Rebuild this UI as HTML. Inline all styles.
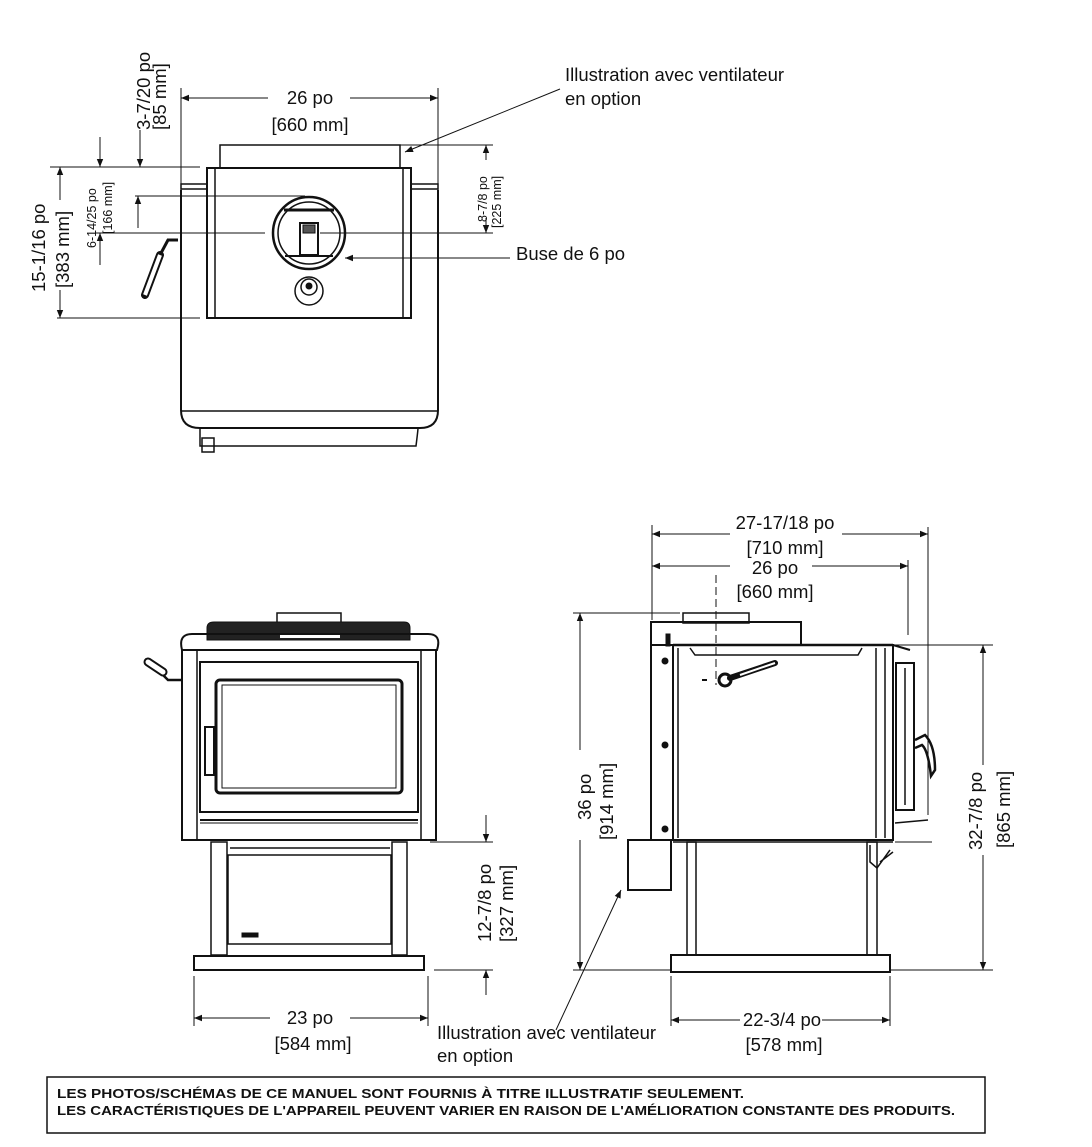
<!DOCTYPE html>
<html><head><meta charset="utf-8"><style>
body{margin:0;background:#fff;}
svg{display:block;font-family:"Liberation Sans",sans-serif;}
text{fill:#111;}
</style></head><body>
<svg width="1092" height="1147" viewBox="0 0 1092 1147" xmlns="http://www.w3.org/2000/svg">
<defs>
<marker id="a" viewBox="0 0 10 10" refX="10" refY="5" markerWidth="10" markerHeight="8" orient="auto-start-reverse" markerUnits="userSpaceOnUse"><path d="M0,1 L10,5 L0,9 z" fill="#111"/></marker>
</defs>
<g stroke="#111" fill="none" stroke-width="1">
<line x1="181" y1="88" x2="181" y2="190"/><line x1="438" y1="88" x2="438" y2="190"/>
<line x1="181" y1="98" x2="268" y2="98" marker-start="url(#a)"/><line x1="350" y1="98" x2="438" y2="98" marker-end="url(#a)"/>
<path d="M181,190 L181,410 Q181,428 200,428 L420,428 Q438,428 438,410 L438,190" stroke-width="2"/>
<line x1="181" y1="411" x2="438" y2="411" stroke-width="1.5"/>
<rect x="181" y="184" width="26" height="5" stroke-width="1.5"/><rect x="411" y="184" width="27" height="5" stroke-width="1.5"/>
<rect x="207" y="168" width="204" height="150" stroke-width="2"/>
<line x1="215" y1="168" x2="215" y2="318" stroke-width="1.5"/><line x1="403" y1="168" x2="403" y2="318" stroke-width="1.5"/>
<rect x="220" y="145" width="180" height="23" stroke-width="1.5"/>
<circle cx="309" cy="233" r="36" stroke-width="2.5"/><circle cx="309" cy="233" r="31" stroke-width="1.5"/>
<rect x="300" y="223" width="18" height="32" stroke-width="2"/><rect x="303" y="225" width="12" height="8" fill="#555"/>
<line x1="284" y1="210" x2="334" y2="210" stroke-width="3"/><line x1="285" y1="256" x2="333" y2="256" stroke-width="2"/>
<circle cx="309" cy="291" r="14" stroke-width="1.5"/><circle cx="309" cy="287" r="8" stroke-width="1.5"/><circle cx="309" cy="286" r="3" fill="#111"/>
<path d="M200,428 L200,446 L416,446 Q418,430 418,428" stroke-width="1.5"/><rect x="202" y="438" width="12" height="14" stroke-width="1.5"/>
<path d="M178,240 L168,240 L160,255" stroke-width="3"/><path d="M160,255 L145,295" stroke-width="8" stroke-linecap="round"/><path d="M160,255 L145,295" stroke="#fff" stroke-width="4"/>
<line x1="50" y1="167" x2="200" y2="167"/><line x1="57" y1="318" x2="200" y2="318"/>
<line x1="135" y1="196" x2="305" y2="196"/><line x1="95" y1="233" x2="265" y2="233"/><line x1="320" y1="233" x2="493" y2="233"/>
<line x1="140" y1="130" x2="140" y2="167" marker-end="url(#a)"/>
<line x1="100" y1="137" x2="100" y2="167" marker-end="url(#a)"/>
<line x1="100" y1="265" x2="100" y2="233" marker-end="url(#a)"/>
<line x1="138" y1="228" x2="138" y2="196" marker-end="url(#a)"/>
<line x1="60" y1="200" x2="60" y2="167" marker-end="url(#a)"/><line x1="60" y1="290" x2="60" y2="318" marker-end="url(#a)"/>
<line x1="400" y1="145" x2="493" y2="145"/>
<line x1="486" y1="145" x2="486" y2="160" marker-start="url(#a)"/><line x1="486" y1="218" x2="486" y2="233" marker-end="url(#a)"/>
<line x1="560" y1="89" x2="405" y2="152" marker-end="url(#a)"/>
<line x1="510" y1="258" x2="345" y2="258" marker-end="url(#a)"/>

<rect x="277" y="613" width="64" height="10" stroke-width="1.5"/>
<path d="M207,640 L207,628 Q207,622 214,622 L404,622 Q410,622 410,628 L410,640 Z" fill="#222"/>
<rect x="280" y="633" width="60" height="5" fill="#fff" stroke="none"/>
<path d="M182,650 Q178,634 192,634 L428,634 Q442,634 437,650 Z" stroke-width="2"/>
<rect x="182" y="650" width="254" height="190" stroke-width="2"/>
<line x1="197" y1="650" x2="197" y2="840" stroke-width="1.5"/><line x1="421" y1="650" x2="421" y2="840" stroke-width="1.5"/>
<rect x="200" y="662" width="218" height="150" stroke-width="2"/>
<rect x="216" y="680" width="186" height="113" rx="4" stroke-width="3"/>
<rect x="222" y="685" width="174" height="103" stroke-width="1"/>
<rect x="205" y="727" width="9" height="48" stroke-width="2"/>
<line x1="200" y1="820" x2="418" y2="820" stroke-width="2"/><line x1="200" y1="823" x2="418" y2="823"/>
<rect x="211" y="842" width="16" height="113" stroke-width="1.5"/><rect x="392" y="842" width="15" height="113" stroke-width="1.5"/>
<rect x="228" y="855" width="163" height="89" stroke-width="1.5"/><line x1="230" y1="848" x2="390" y2="848" stroke-width="1.5"/>
<rect x="242" y="933" width="16" height="4" fill="#111"/>
<rect x="194" y="956" width="230" height="14" stroke-width="2"/>
<path d="M182,680 L168,680 L160,672" stroke-width="2.5"/><path d="M163,672 L148,662" stroke-width="9" stroke-linecap="round"/><path d="M163,672 L148,662" stroke="#fff" stroke-width="5" stroke-linecap="round"/>
<line x1="430" y1="842" x2="493" y2="842"/><line x1="434" y1="970" x2="493" y2="970"/>
<line x1="486" y1="815" x2="486" y2="842" marker-end="url(#a)"/><line x1="486" y1="995" x2="486" y2="970" marker-end="url(#a)"/>
<line x1="194" y1="976" x2="194" y2="1026"/><line x1="428" y1="976" x2="428" y2="1026"/>
<line x1="194" y1="1018" x2="270" y2="1018" marker-start="url(#a)"/><line x1="350" y1="1018" x2="428" y2="1018" marker-end="url(#a)"/>

<line x1="652" y1="525" x2="652" y2="620"/><line x1="928" y1="527" x2="928" y2="815"/><line x1="908" y1="560" x2="908" y2="635"/>
<line x1="652" y1="534" x2="730" y2="534" marker-start="url(#a)"/><line x1="842" y1="534" x2="928" y2="534" marker-end="url(#a)"/>
<line x1="652" y1="566" x2="730" y2="566" marker-start="url(#a)"/><line x1="812" y1="566" x2="908" y2="566" marker-end="url(#a)"/>
<line x1="716" y1="575" x2="716" y2="685" stroke-dasharray="8,4"/>
<rect x="683" y="613" width="66" height="10" stroke-width="1.5"/>
<rect x="651" y="622" width="150" height="23" stroke-width="2"/>
<rect x="651" y="645" width="22" height="195" stroke-width="2"/>
<rect x="666" y="634" width="4" height="12" fill="#111"/>
<line x1="673" y1="645" x2="893" y2="645" stroke-width="2.5"/>
<rect x="673" y="645" width="220" height="195" stroke-width="2"/>
<line x1="678" y1="648" x2="678" y2="838" stroke-width="1.5"/><line x1="876" y1="648" x2="876" y2="838" stroke-width="1.5"/><line x1="885" y1="648" x2="885" y2="838" stroke-width="1.5"/>
<path d="M690,648 L695,655 L858,655 L862,648" stroke-width="1.5"/>
<path d="M893,645 L910,650" stroke-width="2"/>
<rect x="896" y="663" width="18" height="147" stroke-width="2"/><line x1="905" y1="668" x2="905" y2="805" stroke-width="1.5"/>
<path d="M915,740 L925,735 Q935,745 935,770 L931,776 Q928,750 922,745 L915,748" stroke-width="2.5"/>
<circle cx="665" cy="661" r="3" fill="#111"/><circle cx="665" cy="745" r="3" fill="#111"/><circle cx="665" cy="829" r="3" fill="#111"/>
<circle cx="725" cy="680" r="6" stroke-width="3"/><path d="M730,678 L775,663" stroke-width="6" stroke-linecap="round"/><path d="M740,675 L775,663" stroke="#fff" stroke-width="2"/>
<line x1="702" y1="680" x2="707" y2="680" stroke-width="2"/>
<rect x="628" y="840" width="43" height="50" stroke-width="2"/>
<line x1="673" y1="842" x2="893" y2="842" stroke-width="1.5"/>
<rect x="687" y="842" width="9" height="113" stroke-width="1.5"/><rect x="867" y="842" width="10" height="113" stroke-width="1.5"/>
<path d="M870,845 L870,862 L877,868 L890,850 M880,862 L893,852" stroke-width="1.5"/>
<line x1="895" y1="842" x2="932" y2="842"/><line x1="895" y1="823" x2="928" y2="820" stroke-width="1.5"/>
<rect x="671" y="955" width="219" height="17" stroke-width="2"/>
<line x1="573" y1="613" x2="680" y2="613"/><line x1="573" y1="970" x2="670" y2="970"/>
<line x1="580" y1="750" x2="580" y2="613" marker-end="url(#a)"/><line x1="580" y1="840" x2="580" y2="970" marker-end="url(#a)"/>
<line x1="895" y1="645" x2="993" y2="645"/><line x1="890" y1="970" x2="993" y2="970"/>
<line x1="983" y1="765" x2="983" y2="645" marker-end="url(#a)"/><line x1="983" y1="855" x2="983" y2="970" marker-end="url(#a)"/>
<line x1="671" y1="976" x2="671" y2="1026"/><line x1="890" y1="976" x2="890" y2="1026"/>
<line x1="671" y1="1020" x2="740" y2="1020" marker-start="url(#a)"/><line x1="822" y1="1020" x2="890" y2="1020" marker-end="url(#a)"/>
<line x1="556" y1="1030" x2="621" y2="890" marker-end="url(#a)"/>

<rect x="47" y="1077" width="938" height="56" stroke-width="1.5"/>
</g>

<g font-size="18.5">
<text x="310" y="104" text-anchor="middle">26 po</text>
<text x="310" y="131" text-anchor="middle">[660 mm]</text>
<text x="565" y="81">Illustration avec ventilateur</text>
<text x="565" y="105">en option</text>
<text x="516" y="260">Buse de 6 po</text>
<text transform="translate(150,130) rotate(-90)">3-7/20 po</text>
<text transform="translate(166,130) rotate(-90)">[85 mm]</text>
<text transform="translate(45,292) rotate(-90)">15-1/16 po</text>
<text transform="translate(69,288) rotate(-90)">[383 mm]</text>
<text x="310" y="1024" text-anchor="middle">23 po</text>
<text x="313" y="1050" text-anchor="middle">[584 mm]</text>
<text transform="translate(491,942) rotate(-90)">12-7/8 po</text>
<text transform="translate(513,942) rotate(-90)">[327 mm]</text>
<text x="785" y="529" text-anchor="middle">27-17/18 po</text>
<text x="785" y="554" text-anchor="middle">[710 mm]</text>
<text x="775" y="574" text-anchor="middle">26 po</text>
<text x="775" y="598" text-anchor="middle">[660 mm]</text>
<text transform="translate(591,820) rotate(-90)">36 po</text>
<text transform="translate(613,840) rotate(-90)">[914 mm]</text>
<text transform="translate(982,850) rotate(-90)">32-7/8 po</text>
<text transform="translate(1010,848) rotate(-90)">[865 mm]</text>
<text x="782" y="1026" text-anchor="middle">22-3/4 po</text>
<text x="784" y="1051" text-anchor="middle">[578 mm]</text>
<text x="437" y="1039">Illustration avec ventilateur</text>
<text x="437" y="1062">en option</text>
</g>
<g font-size="12.5">
<text transform="translate(96,248) rotate(-90)">6-14/25 po</text>
<text transform="translate(112,234) rotate(-90)">[166 mm]</text>
<text transform="translate(487,222) rotate(-90)">8-7/8 po</text>
<text transform="translate(501,228) rotate(-90)">[225 mm]</text>
</g>
<g font-size="13" font-weight="bold">
<text x="57" y="1098" textLength="687" lengthAdjust="spacingAndGlyphs">LES PHOTOS/SCHÉMAS DE CE MANUEL SONT FOURNIS À TITRE ILLUSTRATIF SEULEMENT.</text>
<text x="57" y="1115" textLength="898" lengthAdjust="spacingAndGlyphs">LES CARACTÉRISTIQUES DE L'APPAREIL PEUVENT VARIER EN RAISON DE L'AMÉLIORATION CONSTANTE DES PRODUITS.</text>
</g>
</svg>
</body></html>
